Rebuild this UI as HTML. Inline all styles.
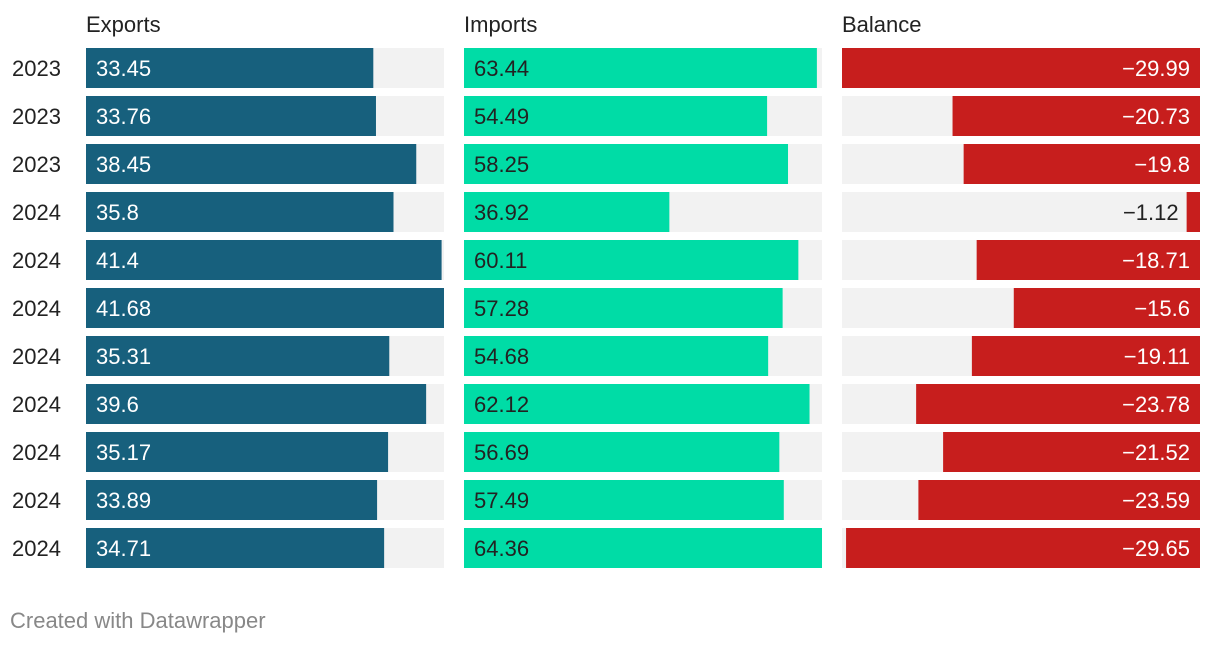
<!DOCTYPE html>
<html><head><meta charset="utf-8"><style>
body{margin:0;background:#fff;width:1220px;height:644px;overflow:hidden;font-family:"Liberation Sans",sans-serif}
svg text{font-family:"Liberation Sans",sans-serif}
</style></head><body>
<svg id="c" width="1220" height="644"></svg>
<script>
const years=["2023","2023","2023","2024","2024","2024","2024","2024","2024","2024","2024"];
const exportsVals=[33.45,33.76,38.45,35.8,41.4,41.68,35.31,39.6,35.17,33.89,34.71];
const importsVals=[63.44,54.49,58.25,36.92,60.11,57.28,54.68,62.12,56.69,57.49,64.36];
const balanceVals=[-29.99,-20.73,-19.8,-1.12,-18.71,-15.6,-19.11,-23.78,-21.52,-23.59,-29.65];
const svg=document.getElementById('c');
const NS='http://www.w3.org/2000/svg';
function mk(t,a){const e=document.createElementNS(NS,t);for(const k in a)e.setAttribute(k,a[k]);svg.appendChild(e);return e;}
const rowY=i=>48+48*i, barH=40, colW=358;
const cols=[
 {name:"Exports",x:86,vals:exportsVals,color:"#17607d",txt:"#fff",key:"exports"},
 {name:"Imports",x:464,vals:importsVals,color:"#00dca6",txt:"#222",key:"imports"},
 {name:"Balance",x:842,vals:balanceVals,color:"#c71e1d",txt:"#fff",key:"balance"}
];
cols.forEach(c=>{
 const h=mk('text',{x:c.x,y:32,'font-size':22,fill:'#222'});h.textContent=c.name;
 
 
 const max=Math.max(...c.vals.map(Math.abs));
 const scale=v=>Math.abs(v)/max*colW;
 c.vals.forEach((v,i)=>{
  const y=rowY(i);
  const bg=mk('rect',{x:c.x,y:y,width:colW,height:barH,fill:'#f2f2f2'});
  
  
  const w=scale(v);
  const neg=v<0;
  const bx=neg?c.x+colW-w:c.x;
  const b=mk('rect',{x:bx,y:y,width:w,height:barH,fill:c.color});
  
  
  const label=(v<0?'\u2212':'')+Math.abs(v);
  const t=mk('text',{y:y+28,'font-size':22});
  t.textContent=label;
  if(neg){t.setAttribute('x',c.x+colW-10);t.setAttribute('text-anchor','end');t.setAttribute('fill',w<80?'#222':c.txt);if(w<80)t.setAttribute('x',bx-8);}
  else{t.setAttribute('x',c.x+10);t.setAttribute('fill',c.txt);}
  
  
 });
});
years.forEach((yv,i)=>{
 const t=mk('text',{x:12,y:rowY(i)+28,'font-size':22,fill:'#222'});t.textContent=yv;
 
 
});
const f=mk('text',{x:10,y:628,'font-size':22,fill:'#888'});f.textContent="Created with Datawrapper";


</script>
</body></html>
